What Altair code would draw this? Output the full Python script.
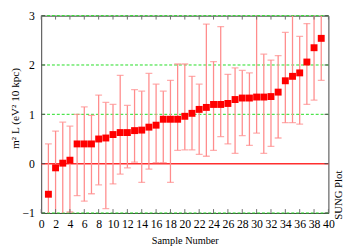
import altair as alt
import pandas as pd

# Data
sample = list(range(1, 40))
value = [-0.62, -0.085, 0.01, 0.07, 0.40, 0.40, 0.40, 0.50, 0.52, 0.59,
         0.63, 0.63, 0.67, 0.68, 0.74, 0.78, 0.90, 0.90, 0.90, 0.96,
         1.02, 1.10, 1.14, 1.20, 1.20, 1.22, 1.30, 1.33, 1.33, 1.35,
         1.35, 1.36, 1.45, 1.68, 1.77, 1.84, 2.06, 2.35, 2.54]
upper = [0.40, 0.66, 0.84, 0.76, 1.00, 1.15, 0.98, 1.39, 1.24, 1.20,
         1.79, 1.18, 1.50, 1.47, 1.83, 1.61, 1.47, 1.69, 2.02, 2.02,
         1.77, 1.61, 2.83, 2.07, 2.78, 1.81, 1.94, 1.89, 1.84, 3.10,
         2.22, 2.10, 2.19, 2.66, 3.10, 2.58, 2.84, 3.10, 3.10]
lower = [-1.20, -1.20, -1.20, -0.98, -0.65, -0.76, -0.61, -0.43, -0.91, -0.41,
         -0.21, -0.085, 0.03, -0.38, -0.11, 0.02, 0.02, -0.38, 0.27, 0.28,
         0.28, 0.19, 0.15, 0.27, 0.55, 0.40, 0.21, 0.57, 0.37, 0.62,
         0.21, 0.35, 0.52, 0.83, 0.83, 0.80, 1.20, 1.29, 1.69]

grid_y = [-1, 1, 2, 3]
zero_y = [0]
x_ticks = list(range(0, 41, 2))
y_ticks = [-1, 0, 1, 2, 3]

df = pd.DataFrame({"sample": sample, "value": value, "lo": lower, "hi": upper})

FONT = "Liberation Serif"

xs = alt.Scale(domain=[0, 40], nice=False, zero=False)
ys = alt.Scale(domain=[-1, 3], nice=False, zero=False)
x_axis = alt.Axis(title="Sample Number", values=x_ticks, ticks=False,
                  domain=False, grid=False, labelFontSize=12,
                  labelPadding=6, titleFontSize=10.5, titleFontWeight="normal",
                  titlePadding=6, labelFlush=False)
y_axis = alt.Axis(title=None, values=y_ticks, ticks=False,
                  domain=False, grid=False, labelFontSize=12,
                  labelPadding=7, labelFlush=False)


def X(f):
    return alt.X(f, scale=xs, axis=x_axis)


def Y(f):
    return alt.Y(f, scale=ys, axis=y_axis)


EB = "#ff8c8c"

grid = alt.Chart(pd.DataFrame({"g": grid_y})).mark_rule(
    color="#22dd22", strokeDash=[3, 2], strokeWidth=1).encode(y=Y("g:Q"))

zero = alt.Chart(pd.DataFrame({"z": zero_y})).mark_rule(
    color="#ff3030", strokeWidth=1.5).encode(y=Y("z:Q"))

base = alt.Chart(df)
bars = base.mark_rule(color=EB, strokeWidth=1.3, clip=True).encode(
    x=X("sample:Q"), y=Y("lo:Q"), y2="hi:Q")
cap_lo = base.mark_tick(color=EB, orient="horizontal", size=7,
                        thickness=1.3, clip=True).encode(
    x=X("sample:Q"), y=Y("lo:Q"))
cap_hi = base.mark_tick(color=EB, orient="horizontal", size=7,
                        thickness=1.3, clip=True).encode(
    x=X("sample:Q"), y=Y("hi:Q"))
pts = base.mark_square(color="#ff0000", size=50, opacity=1).encode(
    x=X("sample:Q"), y=Y("value:Q"))

xt = pd.DataFrame({"t": x_ticks})
top_ticks = alt.Chart(xt).mark_rule(color="#707070", strokeWidth=1).encode(
    x=X("t:Q"), y=alt.value(0), y2=alt.value(4))
bot_ticks = alt.Chart(xt).mark_rule(color="#707070", strokeWidth=1).encode(
    x=X("t:Q"), y=alt.value(202), y2=alt.value(198))
yt = pd.DataFrame({"t": y_ticks})
left_ticks = alt.Chart(yt).mark_rule(color="#505050", strokeWidth=1).encode(
    y=Y("t:Q"), x=alt.value(0), x2=alt.value(4))
right_ticks = alt.Chart(yt).mark_rule(color="#505050", strokeWidth=1).encode(
    y=Y("t:Q"), x=alt.value(294), x2=alt.value(290))

ytitle = alt.Chart(pd.DataFrame({"s": ["m² L (eV² 10 kpc)"]})).mark_text(
    angle=270, align="center", baseline="middle", font=FONT, fontSize=11.5,
    color="#000000").encode(
    text="s:N", x=alt.value(-25.5), y=alt.value(95))

sung = alt.Chart(pd.DataFrame({"s": ["SUNG Plot"]})).mark_text(
    angle=270, align="left", baseline="middle", font=FONT, fontSize=11,
    color="#000000").encode(
    text="s:N", x=alt.value(305), y=alt.value(209))

chart = alt.layer(
    grid, zero, bars, cap_lo, cap_hi, top_ticks, bot_ticks, left_ticks,
    right_ticks, pts, ytitle, sung
).properties(
    width=294, height=202,
    autosize=alt.AutoSizeParams(type="none"),
    padding={"left": 34, "top": 5, "right": 18, "bottom": 33},
).configure_view(
    stroke="#404040", strokeWidth=1
).configure_axis(
    labelFont=FONT, titleFont=FONT, labelColor="#000000", titleColor="#000000"
)

chart.save("out.html", embed_options={"renderer": "svg", "actions": False})
